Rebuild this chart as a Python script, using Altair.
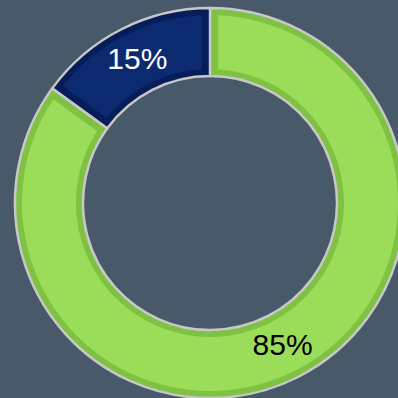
import altair as alt
import pandas as pd

# Share of the two segments (percent)
segments = ["Other", "Share"]
values = [85, 15]
labels = ["85%", "15%"]
edge_colors = ["#7fc243", "#061d5a"]
face_colors = ["#9bdc58", "#0b2a70"]
label_colors = ["#000000", "#ffffff"]

df = pd.DataFrame({
    "segment": segments,
    "value": values,
    "label": labels,
    "order": [0, 1],
    "edge": edge_colors,
    "face": face_colors,
    "ink": label_colors,
})

cx, cy = 210, 203
r_in, r_out = 127, 195

theta = alt.Theta("value:Q", stack=True)
order = alt.Order("order:Q")

ring = alt.Chart(df).mark_arc(
    innerRadius=r_in, outerRadius=r_out, stroke="#c8c8c8", strokeWidth=2.5
).encode(
    theta=theta,
    order=order,
    color=alt.Color("edge:N", scale=None),
    x=alt.value(cx), y=alt.value(cy),
)

face = alt.Chart(df).mark_arc(
    innerRadius=r_in + 7, outerRadius=r_out - 7, padAngle=0.07
).encode(
    theta=theta,
    order=order,
    color=alt.Color("face:N", scale=None),
    x=alt.value(cx), y=alt.value(cy),
)

text = alt.Chart(df).mark_text(
    radius=160, fontSize=30, font="Liberation Sans"
).encode(
    theta=theta,
    order=order,
    text="label:N",
    color=alt.Color("ink:N", scale=None),
    x=alt.value(cx), y=alt.value(cy),
)

chart = alt.layer(ring, face, text).properties(
    width=398, height=398, padding=0, autosize=alt.AutoSizeParams(type="none"),
    background="#485969",
).configure_view(stroke=None)

chart.save("out.html", embed_options={"renderer": "svg", "actions": False})
